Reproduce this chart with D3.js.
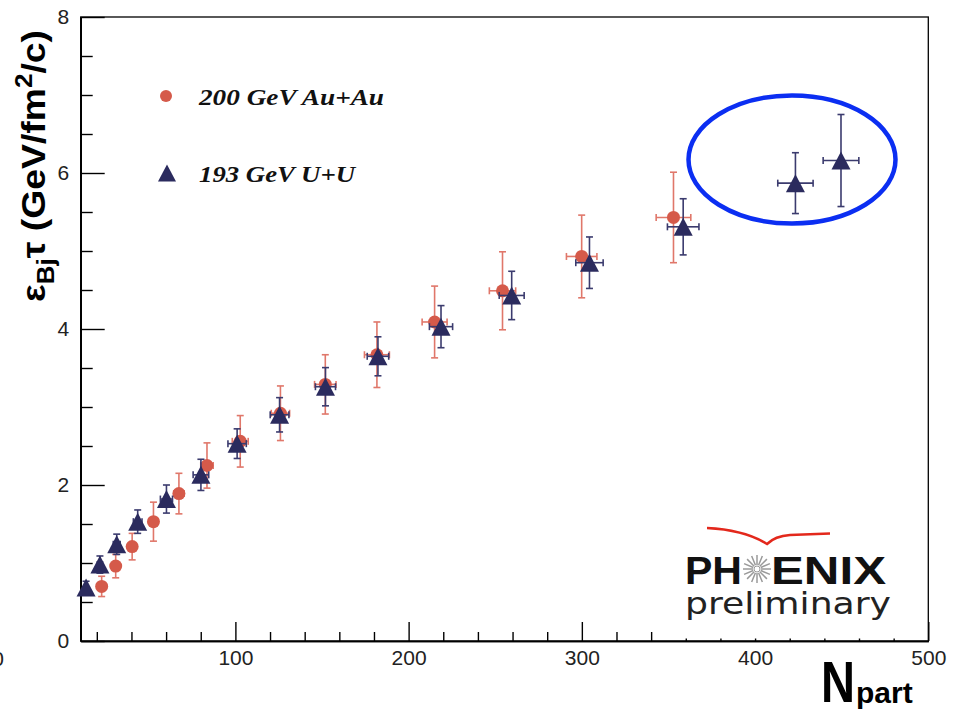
<!DOCTYPE html>
<html><head><meta charset="utf-8">
<script src="https://cdn.jsdelivr.net/npm/d3@7"></script>
<style>
html,body{margin:0;padding:0;background:#fff;}
svg{display:block;}
</style></head>
<body>
<svg id="c" width="959" height="716"></svg>
<script>
// ---- data ----
const auauNpart    = [22.8,30.9,40.4,52.7,67.4,83.6,102.8,126,151.9,181.7,215,254.2,299.9,352.9];
const auauEps      = [0.70,0.96,1.21,1.53,1.89,2.25,2.56,2.92,3.29,3.67,4.09,4.49,4.93,5.43];
const auauEpsErr   = [0.13,0.15,0.17,0.25,0.26,0.29,0.33,0.35,0.38,0.42,0.46,0.50,0.53,0.58];
const auauNpartErr = [1.5,1.8,2.2,2.6,3.0,3.6,4.6,5.3,6.2,7.2,7.2,7.6,8.8,10];

const uuNpart    = [13.8,21.8,31.5,43.6,60.2,80.1,101,125.5,152,182.3,218.7,259.5,304.4,358.5,423.3,449.6];
const uuEps      = [0.686,0.98,1.24,1.53,1.82,2.13,2.53,2.90,3.26,3.65,4.03,4.43,4.85,5.31,5.87,6.16];
const uuEpsErr   = [0.08,0.11,0.13,0.15,0.18,0.20,0.19,0.22,0.245,0.25,0.27,0.31,0.33,0.36,0.39,0.59];
const uuNpartErr = [1,1.5,2,2.5,3.5,4.5,5.3,5.4,5.8,6.2,6.7,7.2,7.9,9.1,10.2,10.3];

const xMajorTicks = [100,200,300,400,500];
const xMinorTicks = d3.range(20,500,20).filter(v=>v%100!==0);
const yMajorTicks = [0,2,4,6,8];
const yMinorTicks = d3.range(0.5,8,0.5).filter(v=>v%2!==0);
const legendLabels = ["200 GeV Au+Au","193 GeV U+U"];

// ---- layout ----
const svg = d3.select("#c");
const L=80.7, R=928.3, T=17, B=641;
const x = d3.scaleLinear().domain([10.7,500]).range([L,R]);
const y = d3.scaleLinear().domain([0,8]).range([B,T]);

const RED="#d55a4a", REDERR="#e0776a", BLUE="#2b2b5e", BLUEERR="#3b3b6e";

// frame
svg.append("rect").attr("x",L).attr("y",T).attr("width",R-L).attr("height",B-T)
  .attr("fill","none").attr("stroke","#000").attr("stroke-width",1.3);

function styleAxis(g){
  g.select(".domain").attr("stroke","#000").attr("stroke-width",1.5);
  g.selectAll(".tick line").attr("stroke","#000").attr("stroke-width",1.4);
  g.selectAll("text").attr("font-family","'Liberation Sans',Arial,sans-serif")
   .attr("font-size",21).attr("fill","#222");
}
// x axis
const gx = svg.append("g").attr("transform",`translate(0,${B})`)
  .call(d3.axisBottom(x).tickValues(xMajorTicks).tickSize(-19).tickSizeOuter(0).tickPadding(9.5).tickFormat(d3.format("d")));
styleAxis(gx);
const gxm = svg.append("g").attr("transform",`translate(0,${B})`)
  .call(d3.axisBottom(x).tickValues(xMinorTicks).tickSize(-9).tickSizeOuter(0).tickFormat(""));
styleAxis(gxm);
// y axis
const gy = svg.append("g").attr("transform",`translate(${L},0)`)
  .call(d3.axisLeft(y).tickValues(yMajorTicks).tickSize(-24).tickSizeOuter(0).tickPadding(11.5).tickFormat(d3.format("d")));
styleAxis(gy);
const gym = svg.append("g").attr("transform",`translate(${L},0)`)
  .call(d3.axisLeft(y).tickValues(yMinorTicks).tickSize(-12).tickSizeOuter(0).tickFormat(""));
styleAxis(gym);

// stray cropped label at far left
svg.append("text").attr("x",4).attr("y",666).attr("text-anchor","end")
  .attr("font-family","'Liberation Sans',Arial,sans-serif").attr("font-size",21).attr("fill","#222").text("0");

// PHENIX logo white box (covers ticks)
svg.append("rect").attr("x",672).attr("y",505).attr("width",254).attr("height",133.5).attr("fill","#fff");

// ---- error bars + markers ----
function drawSeries(xs,ys,ex,ey,errColor,cap){
  const g = svg.append("g").attr("stroke",errColor).attr("stroke-width",1.6).attr("fill","none");
  xs.forEach((xv,i)=>{
    const px=x(xv), py=y(ys[i]);
    const y1=y(ys[i]-ey[i]), y2=y(ys[i]+ey[i]);
    const x1=x(xv-ex[i]), x2=x(xv+ex[i]);
    g.append("line").attr("x1",px).attr("x2",px).attr("y1",y1).attr("y2",y2);
    g.append("line").attr("x1",px-cap).attr("x2",px+cap).attr("y1",y1).attr("y2",y1);
    g.append("line").attr("x1",px-cap).attr("x2",px+cap).attr("y1",y2).attr("y2",y2);
    if (x2-x1 > 4) {
      g.append("line").attr("x1",x1).attr("x2",x2).attr("y1",py).attr("y2",py);
      g.append("line").attr("x1",x1).attr("x2",x1).attr("y1",py-cap).attr("y2",py+cap);
      g.append("line").attr("x1",x2).attr("x2",x2).attr("y1",py-cap).attr("y2",py+cap);
    }
  });
}
const tri = s => `M0,${-s/2}L${s/2+0.5},${s/2}L${-s/2-0.5},${s/2}Z`;

drawSeries(auauNpart,auauEps,auauNpartErr,auauEpsErr,REDERR,3.5);
svg.append("g").selectAll("circle").data(auauNpart).join("circle")
  .attr("cx",d=>x(d)).attr("cy",(d,i)=>y(auauEps[i])).attr("r",6.5).attr("fill",RED);

drawSeries(uuNpart,uuEps,uuNpartErr,uuEpsErr,BLUEERR,3.5);
svg.append("g").selectAll("path").data(uuNpart).join("path")
  .attr("transform",(d,i)=>`translate(${x(d)},${y(uuEps[i])})`)
  .attr("d",tri(18)).attr("fill",BLUE);

// ---- legend ----
svg.append("circle").attr("cx",166).attr("cy",96).attr("r",6).attr("fill",RED);
svg.append("path").attr("transform","translate(167,173)").attr("d",tri(17)).attr("fill",BLUE);
const legLen = [185,156];
svg.selectAll(".leg").data(legendLabels).join("text").attr("class","leg")
  .attr("x",199).attr("y",(d,i)=>i===0?105:182)
  .attr("font-family","'Liberation Serif','Times New Roman',serif").attr("font-weight","bold")
  .attr("font-style","italic").attr("font-size",24).attr("fill","#111")
  .attr("textLength",(d,i)=>legLen[i]).attr("lengthAdjust","spacingAndGlyphs").text(d=>d);

// ---- highlight ellipse ----
svg.append("ellipse").attr("cx",792).attr("cy",159.5).attr("rx",103.5).attr("ry",64)
  .attr("fill","none").attr("stroke","#0b2ef2").attr("stroke-width",4.5);

// ---- axis titles ----
const yl = svg.append("text").attr("font-family","'Liberation Sans',Arial,sans-serif")
  .attr("font-weight","bold").attr("font-size",33).attr("fill","#000").attr("text-anchor","middle");
yl.append("tspan").text("ε");
yl.append("tspan").attr("font-size",23).attr("dy",9).text("Bj");
yl.append("tspan").attr("dy",-9).text("τ");
yl.append("tspan").text(" (GeV/fm");
yl.append("tspan").attr("font-size",23).attr("dy",-13).text("2");
yl.append("tspan").attr("dy",13).text("/c)");
const ylw = yl.node().getBBox().width;
yl.attr("transform",`translate(45,166) rotate(-90) scale(${272/ylw},1)`);

const xl = svg.append("text").attr("font-family","'Liberation Sans',Arial,sans-serif")
  .attr("font-weight","bold").attr("fill","#000");
xl.append("tspan").attr("font-size",58).text("N");
const nW = xl.node().getBBox().width;
xl.attr("transform",`translate(821,702) scale(${34/nW},1)`);
svg.append("text").attr("x",856).attr("y",703).attr("font-family","'Liberation Sans',Arial,sans-serif")
  .attr("font-weight","bold").attr("font-size",30).attr("fill","#000").text("part");

// ---- PHENIX preliminary logo ----
svg.append("path").attr("d","M707,528 Q745,530 767,544 Q775,536 790,535 L830,533.5")
  .attr("fill","none").attr("stroke","#e3281c").attr("stroke-width",2.5);
svg.append("text").attr("x",685).attr("y",584).attr("font-family","'Liberation Sans',Arial,sans-serif")
  .attr("font-weight","bold").attr("font-size",39).attr("textLength",57).attr("lengthAdjust","spacingAndGlyphs")
  .attr("fill","#111").text("PH");
svg.append("text").attr("x",771).attr("y",584).attr("font-family","'Liberation Sans',Arial,sans-serif")
  .attr("font-weight","bold").attr("font-size",39).attr("textLength",115).attr("lengthAdjust","spacingAndGlyphs")
  .attr("fill","#111").text("ENIX");
const star = svg.append("g").attr("transform","translate(757,569)");
d3.range(16).forEach(k=>{
  const a = k*Math.PI/8;
  star.append("line").attr("x1",4*Math.cos(a)).attr("y1",4*Math.sin(a))
    .attr("x2",14*Math.cos(a)).attr("y2",14*Math.sin(a)).attr("stroke","#9a9a9a").attr("stroke-width",1.5);
});
star.append("circle").attr("r",3).attr("fill","#fff").attr("stroke","#999").attr("stroke-width",1);
svg.append("text").attr("x",685).attr("y",614).attr("font-family","'DejaVu Sans',Verdana,sans-serif")
  .attr("font-size",31).attr("textLength",206).attr("lengthAdjust","spacingAndGlyphs")
  .attr("fill","#222").text("preliminary");
</script>
</body></html>
